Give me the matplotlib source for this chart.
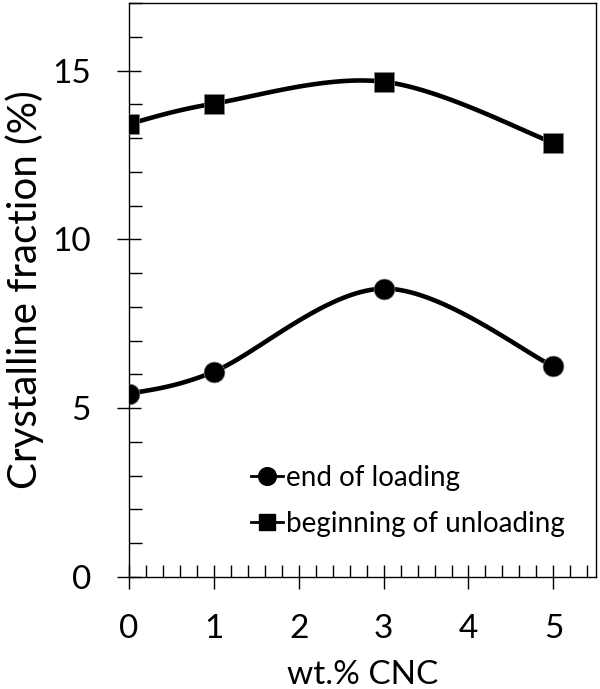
import numpy as np
import matplotlib
matplotlib.use('Agg')
import matplotlib.pyplot as plt
from matplotlib.ticker import MultipleLocator

# datos
cnc = [0, 1, 3, 5]
end_loading = [5.42, 6.08, 8.54, 6.24]
begin_unloading = [13.42, 14.02, 14.67, 12.86]


def smooth(x, y, n=40):
    """Curva suavizada tipo Excel (Bezier con tangentes Catmull-Rom)"""
    x = np.asarray(x, float)
    y = np.asarray(y, float)
    pts = np.column_stack([x, y])
    out = []
    for i in range(len(pts) - 1):
        p0 = pts[i - 1] if i > 0 else pts[i]
        p1 = pts[i]
        p2 = pts[i + 1]
        p3 = pts[i + 2] if i + 2 < len(pts) else pts[i + 1]
        c1 = p1 + (p2 - p0) / 6.0
        c2 = p2 - (p3 - p1) / 6.0
        t = np.linspace(0, 1, n)[:, None]
        seg = ((1 - t) ** 3 * p1 + 3 * (1 - t) ** 2 * t * c1
               + 3 * (1 - t) * t ** 2 * c2 + t ** 3 * p2)
        out.append(seg if i == 0 else seg[1:])
    seg = np.vstack(out)
    return seg[:, 0], seg[:, 1]


plt.rcParams['font.family'] = ['Lato', 'DejaVu Sans']

fig = plt.figure(figsize=(6.0, 6.89), dpi=100)
ax = fig.add_axes([0.215, 0.1626, 0.778, 0.833])

for vals, mk, ms, lab in [(end_loading, 'o', 15, 'end of loading'),
                          (begin_unloading, 's', 14, 'beginning of unloading')]:
    sx, sy = smooth(cnc, vals)
    ax.plot(sx, sy, color='black', lw=3.3, zorder=2)
    ax.plot(cnc, vals, linestyle='none', marker=mk, ms=ms, color='black',
            markeredgecolor='#888888', markeredgewidth=0.5, zorder=3)
    # entrada de leyenda con línea y marcador
    ax.plot([], [], color='black', lw=2, marker=mk, ms=ms * 0.85,
            label=lab)

ax.set_xlim(0, 5.5)
ax.set_ylim(0, 17)
ax.xaxis.set_major_locator(MultipleLocator(1))
ax.xaxis.set_minor_locator(MultipleLocator(0.2))
ax.yaxis.set_major_locator(MultipleLocator(5))
ax.yaxis.set_minor_locator(MultipleLocator(1))

ax.tick_params(which='major', direction='inout', length=17, width=1,
               labelsize=24)
ax.tick_params(which='minor', direction='in', length=9, width=1)
ax.tick_params(axis='x', which='major', pad=18)
ax.tick_params(axis='y', which='major', pad=19)

for s in ax.spines.values():
    s.set_linewidth(1)

ax.set_xlabel('wt.% CNC', fontsize=24, labelpad=12)
ax.set_ylabel('Crystalline fraction (%)', fontsize=29, labelpad=6)

ax.legend(loc='lower left', bbox_to_anchor=(0.262, 0.07), frameon=False,
          fontsize=20, handlelength=1.15, handletextpad=0.1,
          labelspacing=0.72, borderaxespad=0, borderpad=0)

fig.savefig('out.png', dpi=100)
